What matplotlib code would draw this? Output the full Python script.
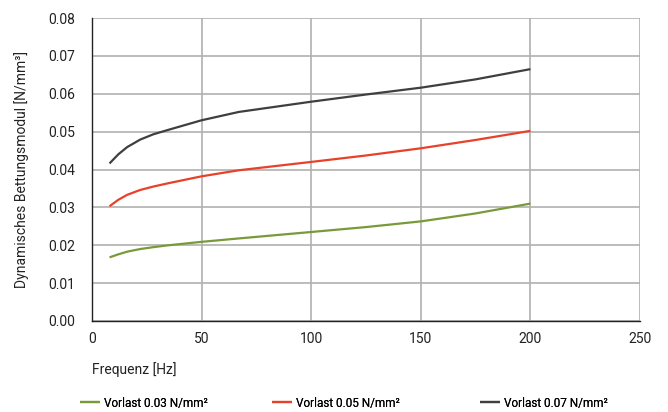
import matplotlib
matplotlib.use("Agg")
import matplotlib.pyplot as plt

plt.rcParams['font.family'] = ['Roboto', 'DejaVu Sans']

# Frequenz [Hz] und dynamischer Bettungsmodul [N/mm³] je Vorlast
freq = [8, 12, 16, 22, 28, 35, 50, 67, 100, 125, 150, 175, 200]
vorlast_003 = [0.0168, 0.0176, 0.0183, 0.0190, 0.0195, 0.0200, 0.0209, 0.0218, 0.0235, 0.0248, 0.0263, 0.0284, 0.0310]
vorlast_005 = [0.0303, 0.0320, 0.0333, 0.0346, 0.0355, 0.0364, 0.0382, 0.0398, 0.0420, 0.0437, 0.0456, 0.0478, 0.0502]
vorlast_007 = [0.0416, 0.0440, 0.0459, 0.0479, 0.0493, 0.0505, 0.0530, 0.0552, 0.0579, 0.0598, 0.0616, 0.0638, 0.0665]

labels = ["Vorlast 0.03 N/mm²", "Vorlast 0.05 N/mm²", "Vorlast 0.07 N/mm²"]
colors = ["#7a9a3a", "#e8412a", "#3f3f3f"]
x_ticks = [0, 50, 100, 150, 200, 250]
y_ticks = [0.00, 0.01, 0.02, 0.03, 0.04, 0.05, 0.06, 0.07, 0.08]

W, H = 668, 412
fig = plt.figure(figsize=(W / 100, H / 100), dpi=100)
ax = fig.add_axes([92 / W, 1 - 321 / H, 548 / W, 303 / H])

handles = []
for ys, lab, c in zip([vorlast_003, vorlast_005, vorlast_007], labels, colors):
    h, = ax.plot(freq, ys, color=c, lw=1.6, label=lab, solid_capstyle='butt',
                 solid_joinstyle='round')
    handles.append(h)

ax.set_xlim(0, 250)
ax.set_ylim(0, 0.08)
ax.set_xticks(x_ticks)
ax.set_yticks(y_ticks)
ax.set_yticklabels([f"{v:.2f}" for v in y_ticks])
ax.grid(True, color="#b0b0b0", lw=1.2)
ax.set_axisbelow(True)
for s in ["top", "right"]:
    ax.spines[s].set_visible(False)
for s in ["left", "bottom"]:
    ax.spines[s].set_color("#222222")
    ax.spines[s].set_linewidth(1.0)
ax.tick_params(axis='y', length=0, labelsize=10, colors="#222222", pad=12)
ax.tick_params(axis='x', length=0, labelsize=10, colors="#222222", pad=8)

ax.set_ylabel("Dynamisches Bettungsmodul [N/mm³]", fontsize=10, color="#222222", labelpad=14)
fig.text(92 / W, 1 - 370 / H, "Frequenz [Hz]", fontsize=10, color="#222222",
         ha="left", va="center")

# one legend per series, spread along the bottom edge
for h, x0 in zip(handles, [80, 272, 480]):
    leg = fig.legend(handles=[h], loc="center left", bbox_to_anchor=(x0 / W, 1 - 403 / H),
                     frameon=False, fontsize=8.5, handlelength=1.7, handletextpad=0.3,
                     borderpad=0, borderaxespad=0)
    fig.add_artist(leg)

fig.savefig("out.png", dpi=100)
